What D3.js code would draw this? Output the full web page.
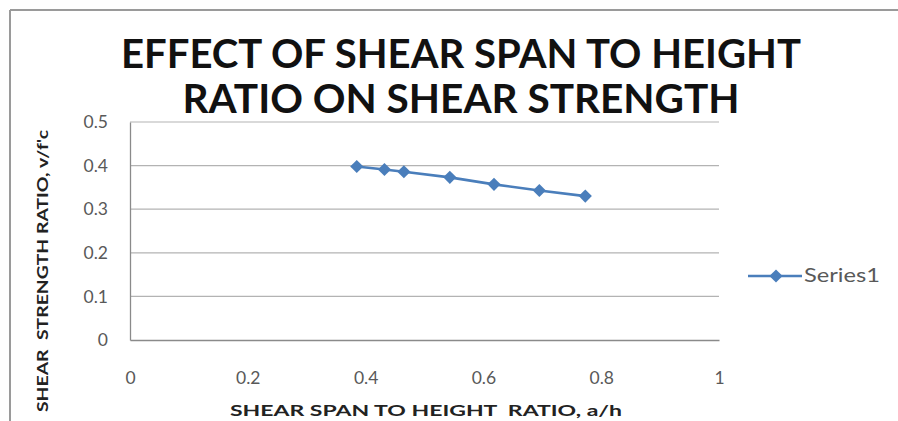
<!DOCTYPE html>
<html><head><meta charset="utf-8">
<script src="https://cdn.jsdelivr.net/npm/d3@7"></script>
<style>body{margin:0;background:#fff}svg{display:block}text{white-space:pre}</style>
</head><body>
<script>
const ratioAH = [0.385, 0.432, 0.465, 0.543, 0.618, 0.695, 0.773];
const strengthRatio = [0.398, 0.391, 0.386, 0.373, 0.357, 0.343, 0.330];
const xTicks = [0, 0.2, 0.4, 0.6, 0.8, 1];
const yTicks = [0, 0.1, 0.2, 0.3, 0.4, 0.5];
const seriesName = "Series1";
const titleLines = ["EFFECT OF SHEAR SPAN TO HEIGHT", "RATIO ON SHEAR STRENGTH"];
const xTitle = "SHEAR SPAN TO HEIGHT  RATIO, a/h";
const yTitle = "SHEAR  STRENGTH RATIO, v/f'c";

const W = 898, H = 421;
const svg = d3.select("body").append("svg").attr("width", W).attr("height", H);
const font = "Lato, 'Open Sans', sans-serif";
const color = "#4a7ebb";

// chart frame (top and left edges visible)
svg.append("line").attr("x1", 10).attr("x2", W).attr("y1", 10).attr("y2", 10).attr("stroke", "#9a9a9a").attr("stroke-width", 2);
svg.append("line").attr("x1", 10).attr("x2", 10).attr("y1", 10).attr("y2", H).attr("stroke", "#9a9a9a").attr("stroke-width", 2);

const x = d3.scaleLinear().domain([0, 1]).range([130, 719]);
const y = d3.scaleLinear().domain([0, 0.5]).range([340, 122]);

// gridlines
svg.append("g").selectAll("line").data(yTicks.filter(d => d > 0)).join("line")
  .attr("x1", x(0)).attr("x2", x(1)).attr("y1", d => y(d)).attr("y2", d => y(d))
  .attr("stroke", "#b3b3b3").attr("stroke-width", 1.2);

// axes
const xAxis = svg.append("g").attr("transform", `translate(0,${y(0)})`)
  .call(d3.axisBottom(x).tickValues(xTicks).tickFormat(d3.format("")).tickSize(0).tickPadding(32));
const yAxis = svg.append("g").attr("transform", `translate(${x(0)},0)`)
  .call(d3.axisLeft(y).tickValues(yTicks).tickFormat(d3.format("")).tickSize(0).tickPadding(22));
[xAxis, yAxis].forEach(g => {
  g.select(".domain").attr("stroke", "#8a8a8a").attr("stroke-width", 1.3);
  g.selectAll("text").attr("font-family", font).attr("font-size", 17.5).attr("fill", "#595959");
});

// series line + markers
svg.append("path").datum(ratioAH.map((v, i) => [v, strengthRatio[i]]))
  .attr("d", d3.line().x(d => x(d[0])).y(d => y(d[1])))
  .attr("fill", "none").attr("stroke", color).attr("stroke-width", 2.6);
const diamond = d3.symbol().type(d3.symbolDiamond2).size(110);
svg.append("g").selectAll("path").data(ratioAH).join("path")
  .attr("d", diamond)
  .attr("transform", (d, i) => `translate(${x(d)},${y(strengthRatio[i])})`)
  .attr("fill", color);

// titles
const tl = [{t: titleLines[0], cx: 461, y: 68, w: 680}, {t: titleLines[1], cx: 461, y: 113, w: 557}];
svg.append("g").selectAll("text").data(tl).join("text")
  .attr("x", d => d.cx).attr("y", d => d.y).attr("text-anchor", "middle")
  .attr("font-family", font).attr("font-weight", "bold").attr("font-size", 40).attr("fill", "#111")
  .attr("textLength", d => d.w).attr("lengthAdjust", "spacingAndGlyphs")
  .text(d => d.t);

svg.append("text").attr("x", 426).attr("y", 416).attr("text-anchor", "middle")
  .attr("font-family", font).attr("font-weight", "bold").attr("font-size", 16).attr("fill", "#222")
  .attr("textLength", 392).attr("lengthAdjust", "spacingAndGlyphs").text(xTitle);

svg.append("text").attr("transform", "translate(48,271) rotate(-90)").attr("text-anchor", "middle")
  .attr("font-family", font).attr("font-weight", "bold").attr("font-size", 16).attr("fill", "#222")
  .attr("textLength", 282).attr("lengthAdjust", "spacingAndGlyphs").text(yTitle);

// legend
const lg = svg.append("g");
lg.append("line").attr("x1", 748).attr("x2", 802).attr("y1", 276).attr("y2", 276).attr("stroke", color).attr("stroke-width", 2.6);
lg.append("path").attr("d", diamond).attr("transform", "translate(776,276)").attr("fill", color);
lg.append("text").attr("x", 804).attr("y", 282).attr("font-family", font).attr("font-size", 19).attr("fill", "#595959")
  .attr("textLength", 76).attr("lengthAdjust", "spacingAndGlyphs").text(seriesName);
</script>
</body></html>
